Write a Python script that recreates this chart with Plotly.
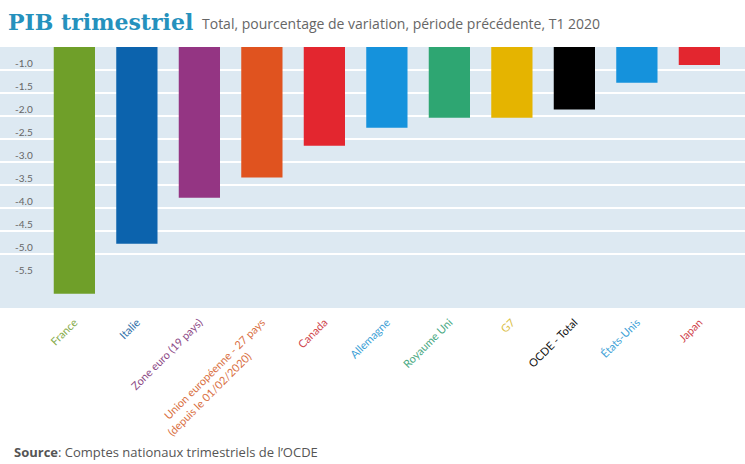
import plotly.graph_objects as go

categories = ["France", "Italie", "Zone euro (19 pays)",
              "Union européenne - 27 pays (depuis le 01/02/2020)", "Canada",
              "Allemagne", "Royaume Uni", "G7", "OCDE - Total", "États-Unis", "Japan"]
tick_lines = [["France"], ["Italie"], ["Zone euro (19 pays)"],
              ["Union européenne - 27 pays", "(depuis le 01/02/2020)" + "&nbsp;" * 12], ["Canada"],
              ["Allemagne"], ["Royaume Uni"], ["G7"], ["OCDE - Total"], ["États-Unis"], ["Japan"]]
values = [-5.87, -4.78, -3.78, -3.34, -2.65, -2.26, -2.04, -2.04, -1.86, -1.28, -0.89]
bar_colors = ["#6f9f29", "#0c63ad", "#943583", "#e0531f", "#e3262f", "#1592dc",
              "#2ea672", "#e5b400", "#000000", "#1592dc", "#e3262f"]
label_colors = ["#86ab4a", "#2f6fa8", "#8d4a86", "#d9703f", "#d0454c", "#3d9fd6",
                "#4aa983", "#d9bd40", "#111111", "#3d9fd6", "#d0454c"]
grid_vals = [-1.0, -1.5, -2.0, -2.5, -3.0, -3.5, -4.0, -4.5, -5.0]
label_vals = [-1.0, -1.5, -2.0, -2.5, -3.0, -3.5, -4.0, -4.5, -5.0, -5.5]
y_range = [-6.18, -0.5]

ticktext = []
for lines, col in zip(tick_lines, label_colors):
    ticktext.append("<br>".join(f'<span style="color:{col}">{ln}</span>' for ln in lines))

fig = go.Figure()
fig.add_trace(go.Bar(x=categories, y=values, marker=dict(color=bar_colors, line=dict(width=0)),
                     width=0.66, hoverinfo="skip"))

fig.update_layout(
    width=745, height=464,
    margin=dict(l=0, r=0, t=47, b=156),
    paper_bgcolor="white",
    plot_bgcolor="#dde9f2",
    showlegend=False,
    font=dict(family="Lato, Open Sans, sans-serif", size=11, color="#555"),
    xaxis=dict(
        tickvals=categories, ticktext=ticktext, tickangle=-45,
        range=[-1.19, 10.73], showgrid=False, zeroline=False,
        tickfont=dict(size=11, family="Lato, sans-serif"), ticks="",
        ticklabelstandoff=5,
    ),
    yaxis=dict(
        range=y_range, tickvals=grid_vals, showticklabels=False,
        showgrid=True, gridcolor="white", gridwidth=2, zeroline=False, ticks="",
    ),
    yaxis2=dict(
        range=y_range, overlaying="y", side="left", anchor="x",
        tickvals=label_vals, ticktext=[f"{v:.1f}" for v in label_vals],
        ticklabelposition="inside", showgrid=False, zeroline=False, ticks="",
        tickfont=dict(size=10, color="#666", family="Lato, sans-serif"),
        ticklabelshift=-6, ticklabelstandoff=12,
    ),
    annotations=[
        dict(text="<b>PIB trimestriel</b>", xref="paper", yref="paper", x=0, y=1,
             xanchor="left", yanchor="bottom", xshift=6, yshift=10, showarrow=False,
             font=dict(family="DejaVu Serif", size=22, color="#2591bd")),
        dict(text="Total, pourcentage de variation, période précédente, T1 2020",
             xref="paper", yref="paper", x=0, y=1, xanchor="left", yanchor="bottom",
             xshift=200, yshift=12, showarrow=False,
             font=dict(family="Open Sans", size=14, color="#666")),
        dict(text="<b>Source</b>: Comptes nationaux trimestriels de l’OCDE",
             xref="paper", yref="paper", x=0, y=0, xanchor="left", yanchor="top",
             xshift=12, yshift=-133, showarrow=False,
             font=dict(family="Open Sans", size=13, color="#555")),
    ],
)
fig.add_trace(go.Scatter(x=[categories[0]], y=[values[0]], yaxis="y2", mode="markers",
                         marker=dict(opacity=0), hoverinfo="skip"))

fig.write_html("out.html", config={"displayModeBar": False},
               post_script="document.body.style.margin='0';document.body.style.overflow='hidden';")
